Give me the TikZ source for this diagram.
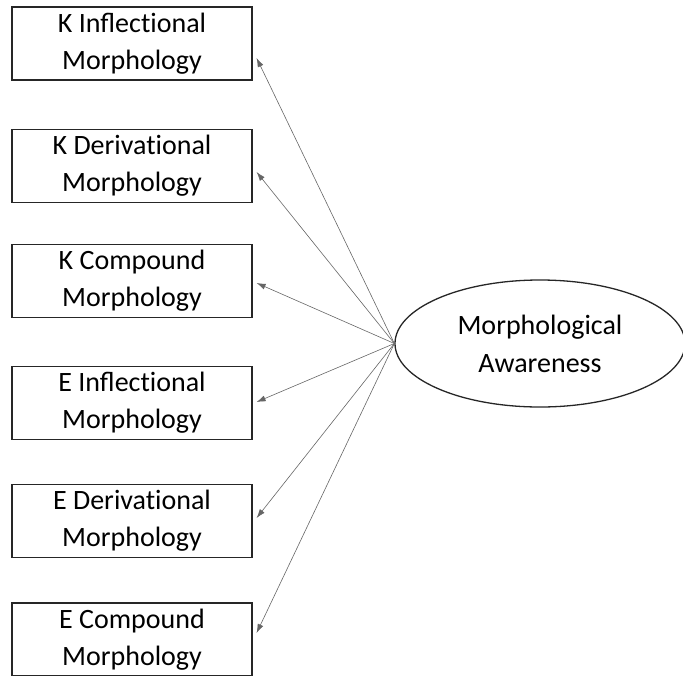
\documentclass[tikz,border=0pt]{standalone}
\usepackage{fontspec}
\setmainfont{Carlito}
\usepackage{tikz}
\usetikzlibrary{arrows.meta,shapes.geometric}

\tikzset{
    measbox/.style={draw=black!85, line width=1.2pt, rectangle, minimum width=240pt,
        minimum height=73pt, inner sep=0pt, align=center, font=\fontsize{28}{37}\selectfont},
    latentvar/.style={draw=black!85, line width=1.3pt, ellipse, minimum width=290pt,
        minimum height=127pt, inner sep=0pt, align=center, font=\fontsize{28}{38}\selectfont},
    loading/.style={draw=black!60, line width=0.6pt, -{Latex[length=9pt,width=6pt]}}
}

\begin{document}
\begin{tikzpicture}[x=1pt,y=-1pt]
        \useasboundingbox (0,0) rectangle (683,675);

        \node[measbox] (kinf) at (132,43.5) {K Inflect\kern0pt ional\\Morphology};
        \node[measbox] (kder) at (132,166) {K Derivat\kern0pt ional\\Morphology};
        \node[measbox] (kcmp) at (132,281) {K Compound\\Morphology};
        \node[measbox] (einf) at (132,403) {E Inflect\kern0pt ional\\Morphology};
        \node[measbox] (eder) at (132,521) {E Derivat\kern0pt ional\\Morphology};
        \node[measbox] (ecmp) at (132,639.5) {E Compound\\Morphology};

        \node[latentvar] (morph) at (540,343.5) {Morphological\\Awareness};

        \draw[loading] (morph.west) -- ([shift={(4,14.5)}]kinf.east);
        \draw[loading] (morph.west) -- ([shift={(4,6)}]kder.east);
        \draw[loading] (morph.west) -- ([shift={(4,2)}]kcmp.east);
        \draw[loading] (morph.west) -- ([shift={(4,-1)}]einf.east);
        \draw[loading] (morph.west) -- ([shift={(4,-3)}]eder.east);
        \draw[loading] (morph.west) -- ([shift={(4,-6.5)}]ecmp.east);
\end{tikzpicture}
\end{document}
